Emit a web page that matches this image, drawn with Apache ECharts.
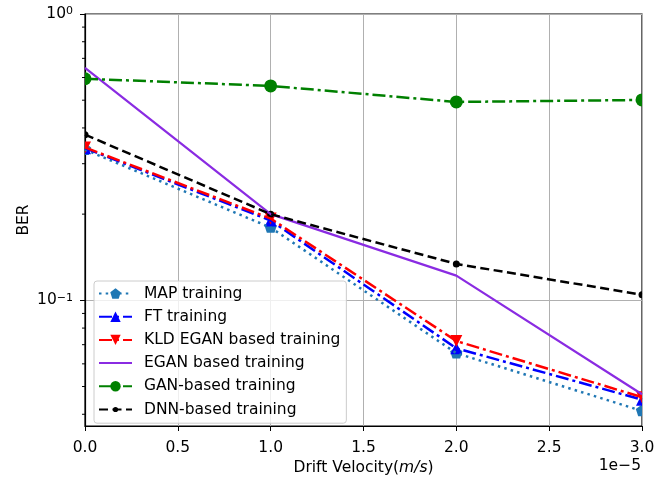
<!DOCTYPE html>
<html><head><meta charset="utf-8">
<script src="https://cdn.jsdelivr.net/npm/echarts@6/dist/echarts.min.js"></script>
<style>html,body{margin:0;padding:0;background:#fff}#c{width:670px;height:481px}</style>
</head><body><div id="c"></div>
<script>
// x values in units of 1e-5 m/s
const xValues = [0, 1, 2, 3];
const mapTraining = [0.336, 0.1795, 0.0654, 0.0411];
const ftTraining = [0.340, 0.190, 0.068, 0.045];
const kldEganTraining = [0.342, 0.193, 0.0721, 0.0459];
const eganTraining = [0.648, 0.200, 0.122, 0.047];
const ganTraining = [0.594, 0.561, 0.493, 0.501];
const dnnTraining = [0.379, 0.200, 0.134, 0.1046];
const yMinorTicks = [0.04, 0.05, 0.06, 0.07, 0.08, 0.09, 0.2, 0.3, 0.4, 0.5, 0.6, 0.7, 0.8, 0.9];
const seriesNames = ['MAP training', 'FT training', 'KLD EGAN based training', 'EGAN based training', 'GAN-based training', 'DNN-based training'];

const FONT = 'DejaVu Sans';
const FS = 15.5;
const pent = 'path://M0,-1 L0.951,-0.309 L0.588,0.809 L-0.588,0.809 L-0.951,-0.309 Z';
const triDown = 'path://M-1,-1 L1,-1 L0,1 Z';
const triUp = 'path://M0,-1 L1,1 L-1,1 Z';
const smallDot = 'path://M-2,-2 M2,2 M1,0 A1,1 0 1 1 -1,0 A1,1 0 1 1 1,0 Z';
const noMark = 'path://M0,0 M1,1';
const unitShapes = {
  pent: [[0,-1],[0.951,-0.309],[0.588,0.809],[-0.588,0.809],[-0.951,-0.309]],
  triUp: [[0,-1],[1,1],[-1,1]],
  triDown: [[-1,-1],[1,-1],[0,1]]
};
function pts(arr){ return xValues.map((x,i)=>[x, arr[i]]); }
function mkLine(name, data, color, dash, legendSymbol, width){
  return {
    name, type:'line', data: pts(data), symbol: legendSymbol, symbolSize: 0,
    showSymbol: false, clip: true, z:2,
    lineStyle:{color, width: width||2.5, type: dash, cap:'butt'},
    itemStyle:{color, borderWidth:0}, emphasis:{disabled:true}, animation:false
  };
}
function mkMarks(name, data, color, kind, size){
  return {
    name: name + ' markers', type:'custom', clip:true, silent:true, z:2,
    data: pts(data),
    renderItem:function(params, api){
      const c = api.coord([api.value(0), api.value(1)]);
      const r = size/2;
      if (kind === 'circle') {
        return {type:'circle', shape:{cx:c[0], cy:c[1], r:r}, style:{fill:color}};
      }
      return {type:'polygon', shape:{points: unitShapes[kind].map(p=>[c[0]+p[0]*r, c[1]+p[1]*r])}, style:{fill:color}};
    }
  };
}
const chart = echarts.init(document.getElementById('c'), null, {renderer:'canvas'});
chart.setOption({
  animation:false,
  textStyle:{fontFamily:FONT},
  grid:{left:85, right:28, top:14, bottom:54, show:true, borderColor:'#000', borderWidth:1.2, backgroundColor:'transparent'},
  xAxis:{
    type:'value', min:0, max:3, interval:0.5,
    name:'Drift Velocity({i|m/s})', nameLocation:'middle', nameGap:34, nameMoveOverlap:false,
    nameTextStyle:{fontSize:FS, color:'#000', fontFamily:FONT, rich:{i:{fontStyle:'italic', fontSize:FS, fontFamily:FONT, color:'#000'}}},
    axisLine:{show:true, lineStyle:{color:'#000', width:1.2}},
    axisTick:{show:true, inside:false, length:5, lineStyle:{color:'#000', width:1}},
    axisLabel:{fontSize:FS, color:'#000', margin:14, formatter:v=>v.toFixed(1)},
    splitLine:{show:true, lineStyle:{color:'#b0b0b0', width:1}}
  },
  yAxis:{
    type:'log', min:0.0364, max:1, logBase:10,
    name:'BER', nameLocation:'middle', nameGap:53, nameMoveOverlap:false,
    nameTextStyle:{fontSize:FS, color:'#000', fontFamily:FONT},
    axisLine:{show:true, lineStyle:{color:'#000', width:1.2}},
    axisTick:{show:true, inside:false, length:5, lineStyle:{color:'#000', width:1}},
    axisLabel:{fontSize:FS, color:'#000', margin:12, showMinLabel:false,
      formatter:function(v){
        const e = Math.log10(v); const r = Math.round(e);
        if (Math.abs(e-r) > 1e-6) return '';
        return '{b|10}{s|' + (r<0 ? '\u2212'+(-r) : r) + '}';
      },
      rich:{
        b:{fontSize:FS, fontFamily:FONT, color:'#000', lineHeight:16, padding:[5,0,5,0], verticalAlign:'middle'},
        s:{fontSize:11, fontFamily:FONT, color:'#000', lineHeight:11, verticalAlign:'top'}
      }
    },
    splitLine:{show:true, lineStyle:{color:'#b0b0b0', width:1}}
  },
  legend:{
    data: seriesNames, orient:'vertical', left:94, top:281, z:10,
    itemWidth:33, itemHeight:13, itemGap:7.2,
    backgroundColor:'rgba(255,255,255,0.8)', borderColor:'#cccccc', borderWidth:1, borderRadius:3,
    padding:[4.5,6,5.7,4],
    textStyle:{fontSize:FS, color:'#000', fontFamily:FONT, lineHeight:13, padding:[0,0,0,7]}
  },
  graphic:[{type:'text', right:29, top:458, style:{text:'1e\u22125', fontSize:FS, fontFamily:FONT, fill:'#000', textAlign:'right'}}],
  series:[
    mkLine(seriesNames[0], mapTraining, '#1f77b4', [2.5,4.2], pent),
    mkMarks(seriesNames[0], mapTraining, '#1f77b4', 'pent', 13),
    mkLine(seriesNames[1], ftTraining, '#0000ff', [13,4,3,4], triUp),
    mkMarks(seriesNames[1], ftTraining, '#0000ff', 'triUp', 12),
    mkLine(seriesNames[2], kldEganTraining, '#ff0000', [13,4,3,4], triDown),
    mkMarks(seriesNames[2], kldEganTraining, '#ff0000', 'triDown', 12),
    mkLine(seriesNames[3], eganTraining, '#8a2be2', 'solid', noMark, 2.2),
    mkLine(seriesNames[4], ganTraining, '#008000', [13,4,3,4], 'circle'),
    mkMarks(seriesNames[4], ganTraining, '#008000', 'circle', 13),
    mkLine(seriesNames[5], dnnTraining, '#000000', [9,4.5], smallDot),
    mkMarks(seriesNames[5], dnnTraining, '#000000', 'circle', 7),
    {
      type:'custom', name:'minorTicks', silent:true, clip:false, z:5,
      data: yMinorTicks.map(v=>[0, v]),
      renderItem:function(params, api){
        const p = api.coord([0, api.value(1)]);
        return {type:'line', shape:{x1:p[0]-3, y1:p[1], x2:p[0], y2:p[1]}, style:{stroke:'#000', lineWidth:1}};
      }
    }
  ]
});
</script></body></html>
